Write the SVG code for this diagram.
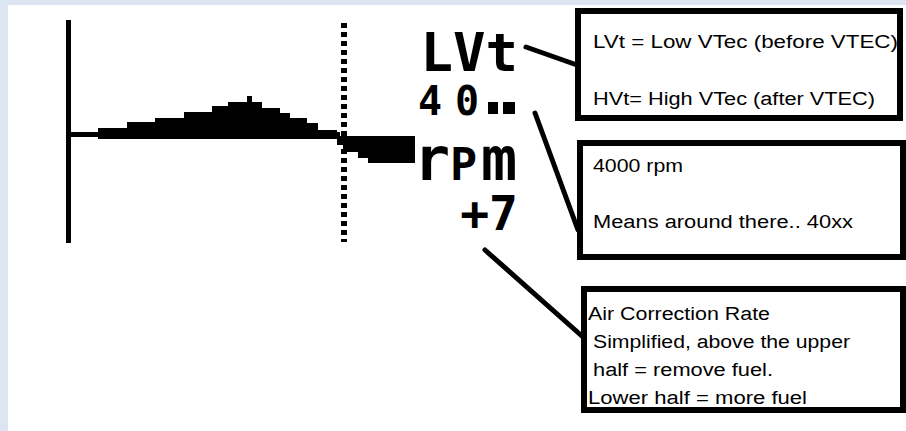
<svg xmlns="http://www.w3.org/2000/svg" width="906" height="431" viewBox="0 0 906 431">
  <style>
    .box { fill: #ffffff; stroke: #000000; stroke-width: 6; }
    .note { font-family: "Liberation Sans", Arial, sans-serif; font-size: 18px; fill: #000000; }
    .lcd { font-family: "DejaVu Sans Mono", "Liberation Mono", monospace; font-weight: bold; fill: #000000; }
    .lead { stroke: #000000; stroke-width: 5; stroke-linecap: round; fill: none; }
  </style>

  <!-- page -->
  <rect x="0" y="0" width="906" height="431" fill="#dde5f0"/>
  <rect x="8" y="5" width="898" height="426" fill="#ffffff"/>

  <!-- correction graph -->
  <g id="graph">
    <rect x="66" y="20" width="5" height="223" fill="#000"/>
    <rect x="68" y="132" width="272" height="5" fill="#000"/>
    <path fill="#000" d="M98,137 V128 H127 V122 H155 V118 H184 V112 H212 V106 H228 V102 H247 V96 H252 V102 H262 V108 H280 V113 H290 V118 H307 V123 H318 V130 H337 V139 H98 Z"/>
    <path fill="#000" d="M337,136 H415 V163 H368 V158 H358 V152 H343 V145 H337 Z"/>
    <line x1="344" y1="23" x2="344" y2="242" stroke="#000" stroke-width="6" stroke-dasharray="5 4"/>
  </g>

  <!-- display readout -->
  <g id="readout">
    <text class="lcd" x="518" y="71" font-size="54" text-anchor="end">LVt</text>
    <text class="lcd" x="418 455" y="115" font-size="40">40</text>
    <rect x="488" y="102" width="10" height="12" fill="#000"/>
    <rect x="503" y="102" width="12" height="12" fill="#000"/>
    <text class="lcd" y="180"><tspan x="414" font-size="60">r</tspan><tspan x="450" font-size="45">P</tspan><tspan x="481" font-size="60">m</tspan></text>
    <text class="lcd" x="518" y="230" font-size="48" text-anchor="end">+7</text>
  </g>

  <!-- callouts -->
  <g id="note-vtec">
    <rect class="box" x="578" y="11" width="322" height="107"/>
    <text class="note" x="593" y="48" textLength="305" lengthAdjust="spacingAndGlyphs">LVt = Low VTec (before VTEC)</text>
    <text class="note" x="593" y="105" textLength="282" lengthAdjust="spacingAndGlyphs">HVt= High VTec (after VTEC)</text>
  </g>

  <g id="note-rpm">
    <rect class="box" x="580" y="143" width="323" height="114"/>
    <text class="note" x="593" y="172" textLength="90" lengthAdjust="spacingAndGlyphs">4000 rpm</text>
    <text class="note" x="593" y="228" textLength="260" lengthAdjust="spacingAndGlyphs">Means around there.. 40xx</text>
  </g>

  <g id="note-correction">
    <rect class="box" x="584" y="289" width="319" height="121"/>
    <text class="note" x="588" y="320" textLength="182" lengthAdjust="spacingAndGlyphs">Air Correction Rate</text>
    <text class="note" x="593" y="348" textLength="257" lengthAdjust="spacingAndGlyphs">Simplified, above the upper</text>
    <text class="note" x="593" y="376" textLength="180" lengthAdjust="spacingAndGlyphs">half = remove fuel.</text>
    <text class="note" x="588" y="404" textLength="219" lengthAdjust="spacingAndGlyphs">Lower half = more fuel</text>
  </g>

  <!-- leader lines -->
  <g id="connectors">
    <line class="lead" x1="526" y1="47" x2="577" y2="65"/>
    <line class="lead" x1="535" y1="113" x2="578" y2="230"/>
    <line class="lead" x1="485" y1="250" x2="583" y2="337"/>
  </g>
</svg>
